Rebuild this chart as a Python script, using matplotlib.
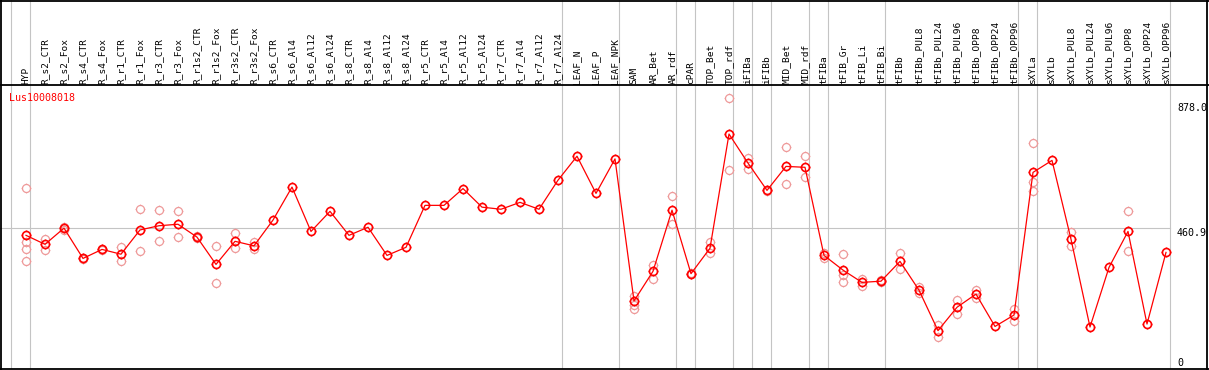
import matplotlib.pyplot as plt
from matplotlib.path import Path
import numpy as np

gene = "Lus10008018"

samples = ["HYP", "R_s2_CTR", "R_s2_Fox", "R_s4_CTR", "R_s4_Fox", "R_r1_CTR", "R_r1_Fox",
           "R_r3_CTR", "R_r3_Fox", "R_r1s2_CTR", "R_r1s2_Fox", "R_r3s2_CTR", "R_r3s2_Fox",
           "R_s6_CTR", "R_s6_Al4", "R_s6_Al12", "R_s6_Al24", "R_s8_CTR", "R_s8_Al4",
           "R_s8_Al12", "R_s8_Al24", "R_r5_CTR", "R_r5_Al4", "R_r5_Al12", "R_r5_Al24",
           "R_r7_CTR", "R_r7_Al4", "R_r7_Al12", "R_r7_Al24", "LEAF_N", "LEAF_P", "LEAF_NPK",
           "SAM", "AR_Bet", "AR_rdf", "cPAR", "TOP_Bet", "TOP_rdf", "iFIBa", "iFIBb",
           "MID_Bet", "MID_rdf", "tFIBa", "tFIB_Gr", "tFIB_Li", "tFIB_Bi", "tFIBb",
           "tFIBb_PUL8", "tFIBb_PUL24", "tFIBb_PUL96", "tFIBb_OPP8", "tFIBb_OPP24",
           "tFIBb_OPP96", "sXYLa", "sXYLb", "sXYLb_PUL8", "sXYLb_PUL24", "sXYLb_PUL96",
           "sXYLb_OPP8", "sXYLb_OPP24", "sXYLb_OPP96"]

means = [436, 406, 460, 359, 389, 373, 454, 468, 473, 430, 339, 416, 401,
         487, 597, 449, 516, 436, 463, 369, 396, 536, 536, 592, 530,
         523, 546, 523, 620, 700, 576, 691,
         217, 316, 520, 308, 393, 774, 677, 586, 666, 663,
         369, 320, 279, 283, 349, 253, 118, 196, 240, 132, 170,
         646, 686, 423, 130, 329, 449, 140, 379]

reps = [[593, 415, 389, 349], [424, 386], [455, 465], [356, 362], [386, 392],
        [398, 351], [523, 383], [520, 416], [516, 429], [427, 433], [401, 276],
        [443, 393], [415, 390],
        [], [], [], [], [], [], [], [], [], [], [], [], [], [], [], [], [], [], [],
        [234, 204, 190], [337, 291], [566, 473], [306, 310], [414, 376], [893, 653],
        [695, 658], [584, 588], [730, 606], [700, 630],
        [376, 362], [374, 303, 280], [291, 268], [280, 286], [376, 323],
        [265, 243], [137, 96], [219, 173], [254, 227], [], [189, 149],
        [744, 613, 583], [], [446, 399], [], [], [516, 383], [], []]

# first sample of each block (separator drawn just before it)
group_starts = [0, 1, 29, 32, 35, 36, 38, 39, 40, 42, 43, 46, 53, 54, 61]
ref_ticks = ["878.0", "460.9", "0"]
ref_vals = [878.0, 460.9, 0.0]

W, H = 1209, 370
fig = plt.figure(figsize=(W / 100, H / 100), dpi=100)
ax = fig.add_axes([0, 0, 1, 1])
ax.axis('off')

# pixel layout of the original: column i at x = 26 + 19*i, value v at y = 366 - 0.2997*v
x0, dx = 26, 19
y0, dy = 366, 0.2997


def px(x):
    return (x - x0) / dx


def py(y):
    return (y0 - y) / dy


ax.set_xlim(px(0), px(W))
ax.set_ylim(py(H), py(0))

# circle with small ticks, like the original glyph
t = np.linspace(0, 2 * np.pi, 49)
verts = [(np.cos(a), np.sin(a)) for a in t]
codes = [Path.MOVETO] + [Path.LINETO] * (len(t) - 1)
for cx, cy in [(1, 0), (-1, 0), (0, 1), (0, -1)]:
    verts += [(cx, cy), (cx * 1.22, cy * 1.22)]
    codes += [Path.MOVETO, Path.LINETO]
marker = Path(verts, codes)

mono = "DejaVu Sans Mono"
grey = "#c4c4c4"

# grid
for k in group_starts:
    ax.plot([k - 0.77] * 2, [py(0), py(368)], color=grey, lw=0.8, zorder=1)
ax.plot([px(0), px(1170)], [460.9, 460.9], color=grey, lw=0.8, zorder=1)

# frame and header rule
kw = dict(color="black", lw=1.3, zorder=5, solid_capstyle="butt")
ax.plot([px(0), px(W)], [py(85), py(85)], **kw)
ax.plot([px(1), px(1)], [py(0), py(H)], **kw)
ax.plot([px(1207), px(1207)], [py(0), py(H)], **kw)
ax.plot([px(0), px(W)], [py(0.6), py(0.6)], **kw)
ax.plot([px(0), px(W)], [py(368.5), py(368.5)], **kw)

x = np.arange(len(samples))

# replicates
rx = [i for i, r in enumerate(reps) for _ in r]
ry = [v for r in reps for v in r]
ax.plot(rx, ry, linestyle="none", marker=marker, ms=7, mfc="none",
        mec="#ee9a9a", mew=0.9, zorder=2)

# mean line
ax.plot(x, means, color="#ff0000", lw=0.9, zorder=3)
ax.plot(x, means, linestyle="none", marker=marker, ms=7, mfc="none",
        mec="#ff0000", mew=1.2, zorder=4)

# sample labels
for i, s in enumerate(samples):
    ax.text(i, py(83.5), s, rotation=90, ha="center", va="bottom",
            fontsize=6.8, family=mono, color="black")

ax.text(px(9), py(97.5), gene, ha="left", va="center", fontsize=7.2,
        family=mono, color="#ff0000")

# value labels on the right (the zero label is kept inside the frame)
for lab, v in zip(ref_ticks, ref_vals):
    ypos = v if v > 0 else py(358.5)
    ax.text(px(1177), ypos, lab, ha="left", va="top",
            fontsize=7.2, family=mono, color="black")

fig.savefig("out.png", dpi=100)
